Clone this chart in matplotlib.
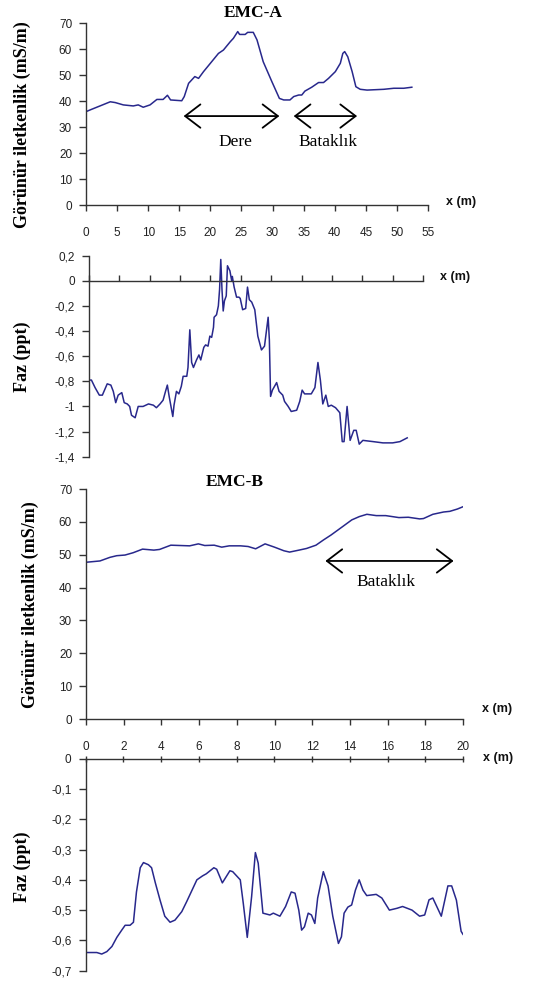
import matplotlib
matplotlib.use("Agg")
import matplotlib.pyplot as plt
from matplotlib.ticker import FuncFormatter, MultipleLocator

# ---------------- data ----------------
# EMC-A apparent conductivity (mS/m)
a_cond_x = [0, 0.9, 2.25, 3.9, 4.7, 6.0, 7.6, 8.4, 9.2, 10.3, 11.4, 12.4, 13.1, 13.6, 15.4, 15.8,
            16.5, 17.5, 18.1, 18.9, 20.0, 21.3, 22.1, 23.2, 23.7, 24.4, 24.7, 25.6, 26.0, 26.9,
            27.5, 28.5, 29.9, 31.1, 31.8, 32.8, 33.4, 34.2, 34.7, 35.2, 36.3, 37.4, 38.2, 39.0,
            40.1, 40.9, 41.3, 41.6, 42.1, 42.8, 43.4, 44.1, 45.2, 47.9, 49.5, 51.1, 52.4]
a_cond_y = [35.9, 36.8, 38.1, 39.7, 39.4, 38.5, 38.1, 38.5, 37.6, 38.5, 40.6, 40.6, 42.2, 40.4, 40.1, 41.7,
            46.8, 49.4, 48.7, 51.3, 54.5, 58.3, 59.6, 62.8, 64.1, 66.7, 65.6, 65.6, 66.4, 66.4,
            63.5, 55.1, 47.4, 41.0, 40.4, 40.4, 41.7, 42.3, 42.3, 43.8, 45.3, 47.1, 47.1, 48.7,
            51.3, 54.5, 58.3, 59.0, 57.0, 51.3, 45.5, 44.5, 44.2, 44.5, 44.9, 44.9, 45.3]

# EMC-A phase (ppt)
a_phase_x = [0.05, 0.4, 1.0, 1.7, 2.2, 3.0, 3.6, 4.0, 4.4, 4.8, 5.4, 5.8, 6.3, 6.7, 7.0, 7.6, 8.1, 8.9,
             9.8, 10.6, 11.1, 11.7, 12.2, 12.6, 12.9, 13.2, 13.8, 14.0, 14.4, 14.8, 15.2, 15.5, 16.1,
             16.3, 16.6, 16.9, 17.2, 17.7, 18.1, 18.4, 18.9, 19.2, 19.6, 19.9, 20.2, 20.5, 20.6, 21.0,
             21.3, 21.5, 21.7, 21.9, 22.1, 22.3, 22.6, 22.8, 23.2, 23.5, 23.6, 23.9, 24.3, 24.7, 24.9,
             25.3, 25.8, 26.1, 26.4, 26.8, 27.3, 27.8, 28.4, 28.9, 29.5, 29.7, 29.9, 30.2, 30.9, 31.3,
             31.9, 32.2, 32.8, 33.3, 34.2, 34.7, 35.1, 35.5, 36.6, 37.2, 37.7, 38.1, 38.5, 39.0, 39.4,
             39.9, 40.6, 41.3, 41.7, 42.0, 42.5, 42.8, 43.0, 43.6, 44.0, 44.5, 45.1, 46.8, 48.4, 50.0,
             51.2, 52.4]
a_phase_y = [-0.79, -0.79, -0.85, -0.91, -0.91, -0.82, -0.83, -0.88, -0.97, -0.91, -0.89, -0.97, -0.98,
             -1.0, -1.07, -1.09, -1.0, -1.0, -0.98, -0.99, -1.01, -0.98, -0.95, -0.88, -0.83, -0.92,
             -1.08, -0.99, -0.88, -0.90, -0.84, -0.76, -0.76, -0.69, -0.39, -0.65, -0.69, -0.63, -0.59,
             -0.63, -0.53, -0.51, -0.52, -0.44, -0.45, -0.37, -0.29, -0.27, -0.20, -0.07, 0.17, -0.07,
             -0.24, -0.16, -0.12, 0.12, 0.08, 0.0, 0.035, -0.05, -0.13, -0.13, -0.14, -0.23, -0.22,
             -0.05, -0.15, -0.17, -0.23, -0.44, -0.55, -0.52, -0.29, -0.47, -0.92, -0.87, -0.81, -0.88,
             -0.91, -0.96, -1.0, -1.04, -1.03, -0.96, -0.87, -0.90, -0.90, -0.85, -0.65, -0.79, -0.98,
             -0.91, -1.0, -0.99, -1.01, -1.05, -1.28, -1.28, -1.0, -1.16, -1.27, -1.19, -1.19, -1.30,
             -1.27, -1.28, -1.29, -1.29, -1.28, -1.25]

# EMC-B apparent conductivity (mS/m)
b_cond_x = [0, 0.74, 1.27, 1.63, 2.07, 2.5, 3.0, 3.6, 3.9, 4.5, 5.0, 5.5, 5.96, 6.3, 6.8, 7.2, 7.6,
            8.2, 8.6, 9.0, 9.5, 10.0, 10.5, 10.8, 11.3, 11.7, 12.2, 12.6, 13.0, 13.6, 14.1, 14.5,
            14.9, 15.4, 15.9, 16.6, 17.1, 17.7, 17.9, 18.4, 18.97, 19.3, 19.7, 20.0]
b_cond_y = [47.7, 48.1, 49.2, 49.7, 49.9, 50.6, 51.7, 51.4, 51.6, 52.9, 52.8, 52.7, 53.3, 52.8, 52.9,
            52.3, 52.7, 52.7, 52.5, 51.8, 53.3, 52.3, 51.2, 50.8, 51.4, 51.9, 52.9, 54.5, 56.0, 58.5,
            60.6, 61.6, 62.3, 61.9, 61.9, 61.3, 61.4, 60.9, 61.0, 62.3, 63.0, 63.2, 63.9, 64.6]

# EMC-B phase (ppt)
b_phase_x = [0, 0.6, 0.86, 1.13, 1.4, 1.66, 1.92, 2.1, 2.36, 2.54, 2.7, 2.9, 3.07, 3.33, 3.5, 3.7,
             3.95, 4.2, 4.48, 4.74, 5.1, 5.36, 5.6, 5.9, 6.2, 6.4, 6.8, 6.95, 7.25, 7.65, 7.8, 8.2,
             8.36, 8.57, 8.8, 9.0, 9.15, 9.4, 9.77, 9.95, 10.3, 10.6, 10.9, 11.1, 11.3, 11.45, 11.6,
             11.8, 11.97, 12.15, 12.3, 12.6, 12.85, 13.1, 13.4, 13.56, 13.7, 13.9, 14.1, 14.3, 14.5,
             14.7, 14.9, 15.15, 15.4, 15.7, 16.1, 16.5, 16.8, 17.3, 17.7, 17.97, 18.2, 18.4, 18.7,
             18.85, 19.2, 19.4, 19.65, 19.9, 20.0]
b_phase_y = [-0.64, -0.64, -0.645, -0.637, -0.62, -0.59, -0.566, -0.55, -0.55, -0.54, -0.44, -0.36,
             -0.343, -0.35, -0.36, -0.41, -0.467, -0.52, -0.54, -0.533, -0.505, -0.472, -0.44, -0.40,
             -0.387, -0.38, -0.36, -0.365, -0.41, -0.37, -0.373, -0.40, -0.478, -0.59, -0.456, -0.31,
             -0.345, -0.51, -0.516, -0.51, -0.52, -0.488, -0.44, -0.444, -0.50, -0.566, -0.555, -0.51,
             -0.516, -0.544, -0.46, -0.373, -0.42, -0.52, -0.61, -0.588, -0.51, -0.49, -0.483, -0.434,
             -0.40, -0.434, -0.452, -0.45, -0.448, -0.46, -0.50, -0.494, -0.488, -0.50, -0.52, -0.516,
             -0.466, -0.46, -0.50, -0.52, -0.42, -0.42, -0.467, -0.57, -0.58]

# annotations
a_zones = ["Dere", "Bataklık"]
a_zone_start = [15.7, 33.4]
a_zone_end = [31.1, 43.6]
a_zone_label_x = [24.0, 38.9]
b_zones = ["Bataklık"]
b_zone_start = [12.7]
b_zone_end = [19.5]
b_zone_label_x = [15.9]

# ---------------- style ----------------
W, H = 552, 982
LINE = "#28288c"
AX = "#333333"
TICKFONT = dict(family="Liberation Sans", size=8.5, color="#222222")
SERIF_B = dict(family="Liberation Serif", weight="bold")
SERIF = dict(family="Liberation Serif")

fig = plt.figure(figsize=(W / 100, H / 100), dpi=100)


def px_axes(x0, x1, y0, y1):
    return fig.add_axes([x0 / W, 1 - y1 / H, (x1 - x0) / W, (y1 - y0) / H])


def comma(v, pos):
    return ("%g" % round(v, 3)).replace(".", ",")


def style(ax):
    for s in ax.spines.values():
        s.set_color(AX)
        s.set_linewidth(1.0)
    ax.tick_params(colors=AX, width=1.0)
    for lab in ax.get_xticklabels() + ax.get_yticklabels():
        lab.set_fontfamily(TICKFONT["family"])
        lab.set_fontsize(TICKFONT["size"])
        lab.set_color(TICKFONT["color"])


def arrow(ax, x0, x1, y):
    ax.annotate("", xy=(x0, y), xytext=(x1, y),
                arrowprops=dict(arrowstyle="<->,head_length=0.55,head_width=0.42",
                                color="black", lw=1.3, mutation_scale=20,
                                shrinkA=0, shrinkB=0))


# ---- Panel 1 ----
ax1 = px_axes(86, 428, 23, 205)
ax1.plot(a_cond_x, a_cond_y, color=LINE, lw=1.1)
ax1.set_xlim(0, 55)
ax1.set_ylim(0, 70)
ax1.xaxis.set_major_locator(MultipleLocator(5))
ax1.yaxis.set_major_locator(MultipleLocator(10))
ax1.spines["top"].set_visible(False)
ax1.spines["right"].set_visible(False)
ax1.tick_params(axis="x", direction="out", length=4, pad=12)
ax1.tick_params(axis="y", direction="out", length=5, pad=5)
style(ax1)
for name, s, e, lx in zip(a_zones, a_zone_start, a_zone_end, a_zone_label_x):
    arrow(ax1, s, e, 34.2)
    ax1.text(lx, 24.4, name, ha="center", va="center", fontsize=12.5, **SERIF)

# ---- Panel 2 ----
ax2 = px_axes(89, 423, 255.7, 456.7)
ax2.plot(a_phase_x, a_phase_y, color=LINE, lw=1.1)
ax2.set_xlim(0, 55)
ax2.set_ylim(-1.4, 0.2)
ax2.xaxis.set_major_locator(MultipleLocator(5))
ax2.yaxis.set_major_locator(MultipleLocator(0.2))
ax2.yaxis.set_major_formatter(FuncFormatter(comma))
ax2.spines["top"].set_visible(False)
ax2.spines["right"].set_visible(False)
ax2.spines["bottom"].set_position(("data", 0))
ax2.tick_params(axis="x", direction="in", length=4, labelbottom=False)
ax2.tick_params(axis="y", direction="out", length=5, pad=5)
style(ax2)

# ---- Panel 3 ----
ax3 = px_axes(86, 463, 489, 719)
ax3.plot(b_cond_x, b_cond_y, color=LINE, lw=1.1)
ax3.set_xlim(0, 20)
ax3.set_ylim(0, 70)
ax3.xaxis.set_major_locator(MultipleLocator(2))
ax3.yaxis.set_major_locator(MultipleLocator(10))
ax3.spines["top"].set_visible(False)
ax3.spines["right"].set_visible(False)
ax3.tick_params(axis="x", direction="out", length=4, pad=12)
ax3.tick_params(axis="y", direction="out", length=5, pad=5)
style(ax3)
for name, s, e, lx in zip(b_zones, b_zone_start, b_zone_end, b_zone_label_x):
    arrow(ax3, s, e, 48.1)
    ax3.text(lx, 41.8, name, ha="center", va="center", fontsize=12.5, **SERIF)

# ---- Panel 4 ----
ax4 = px_axes(85.5, 463, 758.7, 970.7)
ax4.plot(b_phase_x, b_phase_y, color=LINE, lw=1.1)
ax4.set_xlim(0, 20)
ax4.set_ylim(-0.7, 0)
ax4.xaxis.set_major_locator(MultipleLocator(2))
ax4.yaxis.set_major_locator(MultipleLocator(0.1))
ax4.yaxis.set_major_formatter(FuncFormatter(comma))
ax4.spines["bottom"].set_visible(False)
ax4.spines["right"].set_visible(False)
ax4.xaxis.set_ticks_position("top")
ax4.tick_params(axis="x", direction="inout", length=4, labeltop=False)
ax4.tick_params(axis="y", direction="out", length=5, pad=5)
style(ax4)

# ---- titles / axis labels ----
fig.text(253 / W, 1 - 13 / H, "EMC-A", ha="center", va="center", fontsize=12.5, **SERIF_B)
fig.text(235 / W, 1 - 482 / H, "EMC-B", ha="center", va="center", fontsize=12.5, **SERIF_B)

ylab = "Görünür iletkenlik (mS/m)"
fig.text(22 / W, 1 - 125 / H, ylab, rotation=90, ha="center", va="center", fontsize=13, **SERIF_B)
fig.text(22 / W, 1 - 357 / H, "Faz (ppt)", rotation=90, ha="center", va="center", fontsize=13, **SERIF_B)
fig.text(30 / W, 1 - 605 / H, ylab, rotation=90, ha="center", va="center", fontsize=13, **SERIF_B)
fig.text(22 / W, 1 - 867 / H, "Faz (ppt)", rotation=90, ha="center", va="center", fontsize=13, **SERIF_B)

xl = dict(family="Liberation Sans", weight="bold", size=9, color="#111111")
fig.text(461 / W, 1 - 202 / H, "x (m)", ha="center", va="center", **xl)
fig.text(455 / W, 1 - 277 / H, "x (m)", ha="center", va="center", **xl)
fig.text(497 / W, 1 - 709 / H, "x (m)", ha="center", va="center", **xl)
fig.text(498 / W, 1 - 758 / H, "x (m)", ha="center", va="center", **xl)

fig.savefig("out.png", dpi=100)
